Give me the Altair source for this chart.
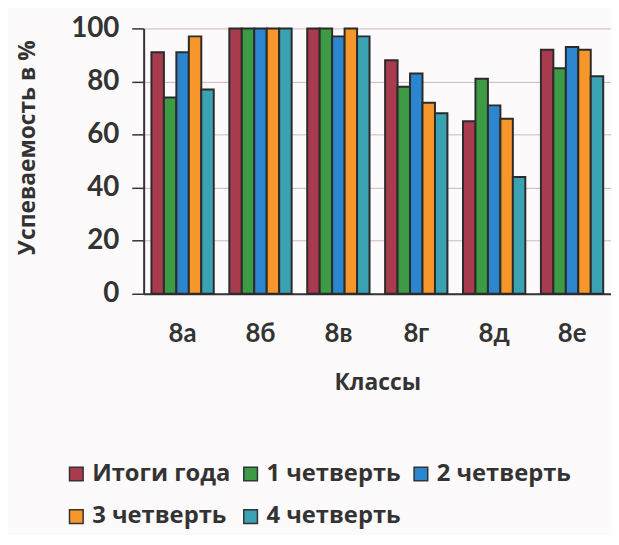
import altair as alt
import pandas as pd

classes = ["8а", "8б", "8в", "8г", "8д", "8е"]
series = ["Итоги года", "1 четверть", "2 четверть", "3 четверть", "4 четверть"]
colors = ["#A83B4E", "#3E9B45", "#2B86CF", "#F7962B", "#3BA2B4"]

itogi = [91, 100, 100, 88, 65, 92]
q1 = [74, 100, 100, 78, 81, 85]
q2 = [91, 100, 97, 83, 71, 93]
q3 = [97, 100, 100, 72, 66, 92]
q4 = [77, 100, 97, 68, 44, 82]

rows = []
for s, vals in zip(series, [itogi, q1, q2, q3, q4]):
    for c, v in zip(classes, vals):
        rows.append({"Класс": c, "Серия": s, "Значение": v})
df = pd.DataFrame(rows)

FONT = "Lato"
FONT2 = "Open Sans"

chart = (
    alt.Chart(df)
    .mark_bar(stroke="#2b2b2b", strokeWidth=2)
    .encode(
        x=alt.X(
            "Класс:N",
            sort=classes,
            scale=alt.Scale(paddingInner=0.2, paddingOuter=0.1),
            axis=alt.Axis(
                title="Классы",
                labelAngle=0,
                labelFontSize=26,
                labelFont=FONT,
                labelFontWeight="bold",
                labelColor="#333333",
                labelPadding=27,
                ticks=False,
                domainColor="#333333",
                domainWidth=2,
                titleFont=FONT2,
                titleFontSize=23,
                titleFontWeight="bold",
                titleColor="#333333",
                titleY=90,
                titleBaseline="middle",
            ),
        ),
        xOffset=alt.XOffset("Серия:N", sort=series, scale=alt.Scale(paddingInner=0, paddingOuter=0)),
        y=alt.Y(
            "Значение:Q",
            scale=alt.Scale(domain=[0, 100], nice=False),
            axis=alt.Axis(
                title="Успеваемость в %",
                values=[0, 20, 40, 60, 80, 100],
                labelFontSize=28,
                labelFont=FONT,
                labelFontWeight="bold",
                labelColor="#333333",
                labelPadding=13,
                tickSize=12,
                tickColor="#333333",
                tickWidth=1.5,
                domainColor="#333333",
                domainWidth=2,
                grid=True,
                gridColor="#cdb6ba",
                gridWidth=1,
                titleFont=FONT2,
                titleFontSize=23,
                titleFontWeight="bold",
                titleColor="#333333",
                titleAngle=270,
                titleX=-117,
                titleY=120,
                titleAlign="center",
                titleBaseline="middle",
            ),
        ),
        color=alt.Color(
            "Серия:N",
            sort=series,
            scale=alt.Scale(domain=series, range=colors),
            legend=alt.Legend(
                title=None,
                orient="none",
                legendX=-80,
                legendY=438,
                direction="horizontal",
                columns=3,
                symbolType="square",
                symbolSize=190,
                symbolStrokeColor="#333333",
                symbolStrokeWidth=1.5,
                symbolOpacity=1,
                labelFont=FONT2,
                labelFontSize=24,
                labelFontWeight="bold",
                labelColor="#333333",
                labelOffset=4,
                columnPadding=8,
                rowPadding=19,
                padding=0,
                labelLimit=300,
            ),
        ),
    )
    .properties(
        width=472,
        height=268,
        padding={"left": 137, "top": 18, "right": 0, "bottom": 241},
        autosize=alt.AutoSizeParams(type="none"),
        background="#fcfafa",
    )
    .configure_view(stroke=None)
)

chart.save("out.html", embed_options={"renderer": "svg", "actions": False})
